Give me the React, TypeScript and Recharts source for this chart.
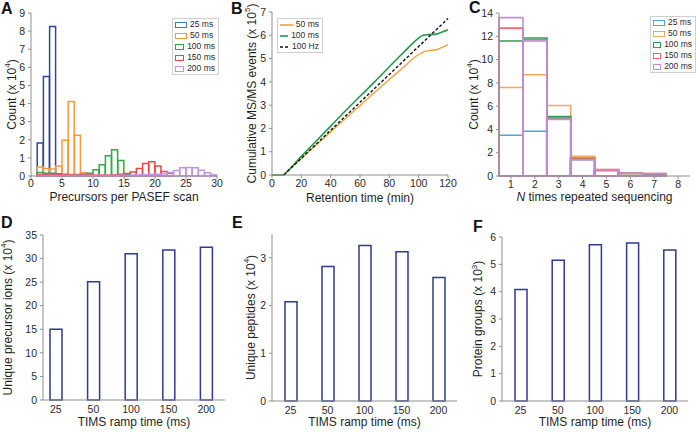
import React from "react";
import { BarChart, Bar, LineChart, Line, XAxis, YAxis, Legend, Label } from "recharts";

const FONT = "'Liberation Sans', Arial, sans-serif";
const AXIS = "#8f8f8f";
const INK = "#2a2a2a";
const NAVY = "#2f3b8c";

const TICK = { fontFamily: FONT, fontSize: 10.5, fill: INK };
const TITLE = { fontFamily: FONT, fontSize: 12, fill: "#1f1f1f" };

// ---------- A: precursors per PASEF scan ----------
const binCenters = [
  0.5, 1.5, 2.5, 3.5, 4.5, 5.5, 6.5, 7.5, 8.5, 9.5,
  10.5, 11.5, 12.5, 13.5, 14.5, 15.5, 16.5, 17.5, 18.5, 19.5,
  20.5, 21.5, 22.5, 23.5, 24.5, 25.5, 26.5, 27.5, 28.5, 29.5,
];
const scan25 = [0, 1.82, 5.5, 8.25, 0, 0, 0, 0, 0, 0, 0, 0, 0, 0, 0, 0, 0, 0, 0, 0, 0, 0, 0, 0, 0, 0, 0, 0, 0, 0];
const scan50 = [0, 0.5, 0.42, 0.38, 0.55, 1.98, 4.12, 2.25, 0.18, 0.08, 0, 0, 0, 0, 0, 0, 0, 0, 0, 0, 0, 0, 0, 0, 0, 0, 0, 0, 0, 0];
const scan100 = [0, 0.2, 0.15, 0.15, 0.12, 0.1, 0.08, 0.08, 0.1, 0.15, 0.35, 0.62, 1.12, 1.45, 0.86, 0.1, 0, 0, 0, 0, 0, 0, 0, 0, 0, 0, 0, 0, 0, 0];
const scan150 = [0, 0.08, 0.1, 0.1, 0.08, 0.07, 0.06, 0.05, 0.05, 0.05, 0.05, 0.05, 0.05, 0.06, 0.1, 0.14, 0.22, 0.41, 0.69, 0.78, 0.55, 0.25, 0.15, 0, 0, 0, 0, 0, 0, 0];
const scan200 = [0, 0.03, 0.03, 0.03, 0.03, 0.03, 0.03, 0.03, 0.03, 0.03, 0.03, 0.03, 0.03, 0.03, 0.04, 0.04, 0.05, 0.06, 0.07, 0.09, 0.1, 0.12, 0.2, 0.3, 0.45, 0.47, 0.45, 0.32, 0.18, 0.06];

const SCAN_SERIES = [
  { key: "s25", name: "25 ms", color: "#34449e", legend: "#3f7cc2", values: scan25 },
  { key: "s50", name: "50 ms", color: "#f59a3a", legend: "#f59a3a", values: scan50 },
  { key: "s100", name: "100 ms", color: "#2daa4c", legend: "#2daa4c", values: scan100 },
  { key: "s150", name: "150 ms", color: "#ec4848", legend: "#ec4848", values: scan150 },
  { key: "s200", name: "200 ms", color: "#c393e4", legend: "#c393e4", values: scan200 },
];
const scanRows = binCenters.map((x, i) => {
  const row: Record<string, number> = { x };
  SCAN_SERIES.forEach((s) => (row[s.key] = s.values[i]));
  return row;
});

// ---------- B: cumulative MS/MS events ----------
const rt50 = [0, 7, 10, 20, 30, 40, 50, 60, 70, 80, 90, 98, 103, 107, 112, 116, 120];
const ev50 = [0, 0, 0.15, 0.7, 1.28, 1.85, 2.42, 2.98, 3.55, 4.1, 4.65, 5.09, 5.28, 5.34, 5.38, 5.48, 5.6];
const rt100 = [0, 8, 10, 20, 30, 40, 50, 60, 70, 80, 90, 100, 103, 107, 112, 116, 120];
const ev100 = [0, 0, 0.12, 0.8, 1.45, 2.1, 2.75, 3.38, 4.0, 4.65, 5.28, 5.88, 6.0, 6.03, 6.05, 6.14, 6.24];
const rtHz = [8, 120];
const evHz = [0, 6.72];

const toPoints = (xs: number[], ys: number[]) => xs.map((x, i) => ({ x, y: ys[i] }));
const CURVES = [
  { name: "50 ms", color: "#f5a03e", dash: undefined as string | undefined, width: 1.4, data: toPoints(rt50, ev50) },
  { name: "100 ms", color: "#1f9a4e", dash: undefined as string | undefined, width: 1.6, data: toPoints(rt100, ev100) },
  { name: "100 Hz", color: "#111111", dash: "3 2", width: 1.4, data: toPoints(rtHz, evHz) },
];

// ---------- C: repeated sequencing ----------
const repeatN = [1, 2, 3, 4, 5, 6, 7, 8];
const rep25 = [3.5, 3.85, 4.95, 1.4, 0.45, 0.2, 0.05, 0];
const rep50 = [7.6, 8.7, 6.05, 1.7, 0.55, 0.2, 0.1, 0];
const rep100 = [11.6, 11.85, 5.1, 1.5, 0.5, 0.25, 0.15, 0];
const rep150 = [12.7, 11.7, 5.0, 1.55, 0.5, 0.25, 0.2, 0];
const rep200 = [13.6, 11.6, 4.85, 1.4, 0.55, 0.25, 0.2, 0];

const REPEAT_SERIES = [
  { key: "r25", name: "25 ms", color: "#4aa9d8", values: rep25 },
  { key: "r50", name: "50 ms", color: "#f5a75a", values: rep50 },
  { key: "r100", name: "100 ms", color: "#2aa05a", values: rep100 },
  { key: "r150", name: "150 ms", color: "#f06a6a", values: rep150 },
  { key: "r200", name: "200 ms", color: "#c08ed8", values: rep200 },
];
const repeatRows = repeatN.map((n, i) => {
  const row: Record<string, number> = { n };
  REPEAT_SERIES.forEach((s) => (row[s.key] = s.values[i]));
  return row;
});

// ---------- D/E/F: TIMS ramp time ----------
const rampTimes = ["25", "50", "100", "150", "200"];
const precursorIons = [15.0, 25.1, 31.0, 31.8, 32.4];
const peptides = [2.08, 2.82, 3.26, 3.13, 2.59];
const proteinGroups = [4.08, 5.15, 5.72, 5.78, 5.52];
const rampRows = rampTimes.map((t, i) => ({ t, ions: precursorIons[i], pep: peptides[i], prot: proteinGroups[i] }));

// ---------- helpers ----------
const sup = (base: string, exp: string) => (
  <>
    {base}
    <tspan dy={-4.5} fontSize={8}>{exp}</tspan>
    <tspan dy={4.5}>)</tspan>
  </>
);

const yTitle = (cx: number, content: React.ReactNode) => (props: any) => {
  const vb = props.viewBox;
  const cy = vb.y + vb.height / 2;
  return (
    <text x={cx} y={cy} transform={`rotate(-90 ${cx} ${cy})`} textAnchor="middle" dominantBaseline="central" style={TITLE}>
      {content}
    </text>
  );
};

const xTitle = (content: React.ReactNode) => (props: any) => {
  const vb = props.viewBox;
  return (
    <text x={vb.x + vb.width / 2} y={vb.y + vb.height} textAnchor="middle" style={TITLE}>
      {content}
    </text>
  );
};

const axisProps = {
  tick: TICK,
  tickSize: 3,
  tickMargin: 3,
  tickLine: { stroke: AXIS },
  axisLine: { stroke: AXIS },
};

function BoxLegend({ items, kind, swatchW }: { items: { name: string; color: string; dash?: string }[]; kind: "rect" | "line"; swatchW: number }) {
  return (
    <div style={{ border: "1px solid #cfcfcf", background: "#fff", padding: "0 3px 0 2px", fontFamily: FONT, fontSize: 8.5, color: INK, lineHeight: "11px" }}>
      {items.map((it) => (
        <div key={it.name} style={{ display: "flex", alignItems: "center", height: 11, whiteSpace: "nowrap" }}>
          {kind === "rect" ? (
            <span style={{ display: "inline-block", boxSizing: "border-box", width: swatchW, height: 6, border: `1.5px solid ${it.color}`, marginRight: 3 }} />
          ) : (
            <svg width={swatchW} height={4} style={{ marginRight: 3 }}>
              <line x1={0} y1={2} x2={swatchW} y2={2} stroke={it.color} strokeWidth={1.6} strokeDasharray={it.dash} />
            </svg>
          )}
          {it.name}
        </div>
      ))}
    </div>
  );
}

const Letter = ({ ch, left, top }: { ch: string; left: number; top: number }) => (
  <div style={{ position: "absolute", left, top, fontFamily: FONT, fontWeight: 700, fontSize: 16, lineHeight: 1, color: "#111" }}>{ch}</div>
);

const at = (left: number, top: number): React.CSSProperties => ({ position: "absolute", left, top });

function RampChart({ dataKey, domain, ticks, title, titleX, margin, padding }: any) {
  return (
    <BarChart width={margin.w} height={222} data={rampRows} margin={margin.m}>
      <XAxis dataKey="t" {...axisProps} height={margin.xh} padding={padding} tickLine={false}>
        <Label content={xTitle("TIMS ramp time (ms)")} />
      </XAxis>
      <YAxis {...axisProps} width={22} domain={domain} ticks={ticks} interval={0}>
        <Label content={yTitle(titleX, title)} />
      </YAxis>
      <Bar dataKey={dataKey} fill="#ffffff" stroke={NAVY} strokeWidth={1.5} barSize={12} isAnimationActive={false} />
    </BarChart>
  );
}

export default function App() {
  return (
    <div style={{ position: "absolute", left: 0, top: 0, width: 696, height: 432, background: "#fff", overflow: "hidden" }}>
      {/* A — one x axis per series so the bars overlap; only the first is drawn */}
      <div style={at(0, 0)}>
        <BarChart width={240} height={210} data={scanRows} margin={{ top: 13, right: 23, left: 9, bottom: 9 }} barCategoryGap={0} barGap={0}>
          {SCAN_SERIES.map((s, i) => (
            <XAxis key={s.key} xAxisId={s.key} dataKey="x" type="number" domain={[0, 30]} ticks={[0, 5, 10, 15, 20, 25, 30]} hide={i > 0} height={i > 0 ? 0 : 25} {...axisProps} tickMargin={1}>
              {i === 0 && <Label content={xTitle("Precursors per PASEF scan")} />}
            </XAxis>
          ))}
          <YAxis {...axisProps} width={22} domain={[0, 9]} ticks={[0, 1, 2, 3, 4, 5, 6, 7, 8, 9]} interval={0}>
            <Label content={yTitle(11.5, sup("Count (x 10", "4"))} />
          </YAxis>
          {SCAN_SERIES.map((s) => (
            <Bar key={s.key} xAxisId={s.key} dataKey={s.key} name={s.name} fill="none" stroke={s.color} strokeWidth={1.5} isAnimationActive={false} />
          ))}
          <Legend
            layout="vertical"
            align="center"
            verticalAlign="middle"
            wrapperStyle={{ left: 172, top: 18, width: 47, height: 57 }}
            content={() => <BoxLegend kind="rect" swatchW={12} items={SCAN_SERIES.map((s) => ({ name: s.name, color: s.legend }))} />}
          />
        </BarChart>
      </div>

      {/* B */}
      <div style={at(230, 0)}>
        <LineChart width={240} height={210} margin={{ top: 12, right: 22, left: 20, bottom: 8 }}>
          <XAxis dataKey="x" type="number" domain={[0, 120]} ticks={[0, 20, 40, 60, 80, 100, 120]} height={27} {...axisProps} tickMargin={2}>
            <Label content={xTitle("Retention time (min)")} />
          </XAxis>
          <YAxis {...axisProps} width={22} domain={[0, 7]} ticks={[0, 1, 2, 3, 4, 5, 6, 7]} interval={0}>
            <Label content={yTitle(21.5, sup("Cumulative MS/MS events (x 10", "5"))} />
          </YAxis>
          {CURVES.map((c) => (
            <Line key={c.name} data={c.data} dataKey="y" name={c.name} type="monotone" stroke={c.color} strokeWidth={c.width} strokeDasharray={c.dash} dot={false} isAnimationActive={false} />
          ))}
          <Legend
            layout="vertical"
            align="center"
            verticalAlign="middle"
            wrapperStyle={{ left: 47, top: 18, width: 46, height: 35 }}
            content={() => <BoxLegend kind="line" swatchW={13} items={CURVES.map((c) => ({ name: c.name, color: c.color, dash: c.dash }))} />}
          />
        </LineChart>
      </div>

      {/* C */}
      <div style={at(460, 0)}>
        <BarChart width={236} height={210} data={repeatRows} margin={{ top: 13, right: 6, left: 17, bottom: 9 }} barCategoryGap={0} barGap={0}>
          {REPEAT_SERIES.map((s, i) => (
            <XAxis key={s.key} xAxisId={s.key} dataKey="n" type="number" domain={[0.5, 8.5]} ticks={[1, 2, 3, 4, 5, 6, 7, 8]} hide={i > 0} height={i > 0 ? 0 : 25} {...axisProps} tickMargin={2}>
              {i === 0 && (
                <Label
                  content={xTitle(
                    <>
                      <tspan fontStyle="italic">N</tspan> times repeated sequencing
                    </>
                  )}
                />
              )}
            </XAxis>
          ))}
          <YAxis {...axisProps} width={22} domain={[0, 14]} ticks={[0, 2, 4, 6, 8, 10, 12, 14]} interval={0}>
            <Label content={yTitle(13.5, sup("Count (x 10", "4"))} />
          </YAxis>
          {REPEAT_SERIES.map((s) => (
            <Bar key={s.key} xAxisId={s.key} dataKey={s.key} name={s.name} fill="none" stroke={s.color} strokeWidth={1.6} isAnimationActive={false} />
          ))}
          <Legend
            layout="vertical"
            align="center"
            verticalAlign="middle"
            wrapperStyle={{ left: 190, top: 16, width: 46, height: 57 }}
            content={() => <BoxLegend kind="rect" swatchW={12} items={REPEAT_SERIES.map((s) => ({ name: s.name, color: s.color }))} />}
          />
        </BarChart>
      </div>

      {/* D */}
      <div style={at(0, 210)}>
        <RampChart
          dataKey="ions"
          domain={[0, 35]}
          ticks={[0, 5, 10, 15, 20, 25, 30, 35]}
          title={sup("Unique precursor ions (x 10", "4")}
          titleX={7.5}
          margin={{ w: 240, m: { top: 25, right: 15, left: 21, bottom: 6 }, xh: 26 }}
          padding={{ left: -6, right: 0 }}
        />
      </div>

      {/* E */}
      <div style={at(230, 210)}>
        <RampChart
          dataKey="pep"
          domain={[0, 3.5]}
          ticks={[0, 1, 2, 3]}
          title={sup("Unique peptides (x 10", "4")}
          titleX={20.7}
          margin={{ w: 240, m: { top: 24, right: 13, left: 20, bottom: 6 }, xh: 25 }}
          padding={{ left: 0, right: 0 }}
        />
      </div>

      {/* F */}
      <div style={at(460, 210)}>
        <RampChart
          dataKey="prot"
          domain={[0, 6]}
          ticks={[0, 1, 2, 3, 4, 5, 6]}
          title={sup("Protein groups (x 10", "3")}
          titleX={18.3}
          margin={{ w: 236, m: { top: 27, right: 8, left: 20, bottom: 6 }, xh: 25 }}
          padding={{ left: 0, right: 0 }}
        />
      </div>

      <Letter ch="A" left={1} top={1} />
      <Letter ch="B" left={231} top={1} />
      <Letter ch="C" left={469} top={0} />
      <Letter ch="D" left={1} top={215} />
      <Letter ch="E" left={232} top={215} />
      <Letter ch="F" left={473} top={219} />
    </div>
  );
}
